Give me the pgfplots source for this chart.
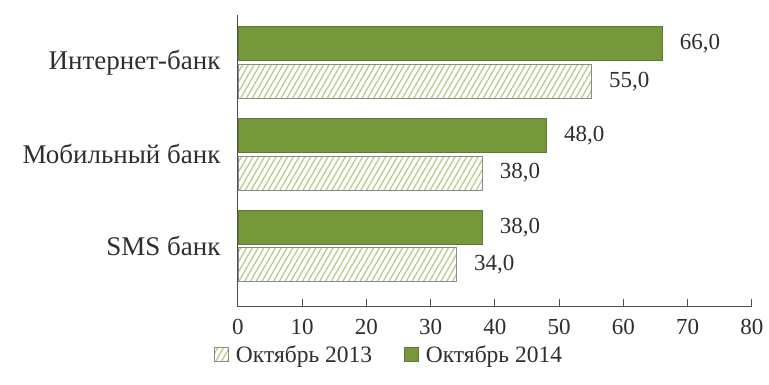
\documentclass[border=0pt]{standalone}
\usepackage{fontspec}
\setmainfont{Liberation Serif}
\usepackage{pgfplots}
\pgfplotsset{compat=1.18}
\usetikzlibrary{patterns.meta}

\definecolor{barGreen}{HTML}{76983A}
\definecolor{barEdge}{HTML}{5E7A34}
\definecolor{hatchGreen}{HTML}{B5CD8A}
\definecolor{hatchEdge}{HTML}{8A8A8A}
\definecolor{axisGrey}{HTML}{4D4D4D}
\definecolor{textGrey}{HTML}{2E2E2E}

\begin{document}
\begin{tikzpicture}[x=1pt,y=1pt]
\path[use as bounding box] (-238,-78) rectangle (531,307);
\begin{axis}[
  scale only axis, width=514pt, height=292pt,
  at={(0,0)}, anchor=south west,
  xmin=0, xmax=80, ymin=-0.663, ymax=2.516,
  xbar, bar width=34pt,
  axis x line=bottom, axis y line=left,
  axis line style={axisGrey, line width=1pt, -},
  xtick={0,10,...,80},
  tick align=inside, major tick length=8pt,
  xtick style={axisGrey, line width=1pt},
  ytick={0,1,2},
  yticklabels={SMS банк, Мобильный банк, Интернет-банк},
  ytick style={draw=none},
  every tick label/.append style={textGrey},
  /pgf/number format/assume math mode=true,
  xticklabel style={font=\fontsize{23}{27}\selectfont, yshift=-9pt},
  yticklabel style={font=\fontsize{27}{31}\selectfont, xshift=-14pt},
  nodes near coords={\pgfmathprintnumber[fixed,fixed zerofill,precision=1,use comma,assume math mode=true]{\pgfplotspointmeta}},
  nodes near coords align=horizontal,
  every node near coord/.append style={textGrey, font=\fontsize{23}{27}\selectfont, xshift=14pt},
  legend style={at={(axis description cs:0.294,-0.164)}, anchor=center,
    draw=none, fill=none, legend columns=2, font=\fontsize{23.5}{27}\selectfont,
    text=textGrey,
    /tikz/every even column/.append style={column sep=30pt}},
  legend cell align=left,
  legend image code/.code={\draw[#1] (0pt,-7pt) rectangle (14pt,7pt); \path (19pt,0pt);},
]
% October 2013: hatched bars, lower bar in each group
\addplot[draw=hatchEdge, line width=0.8pt,
  pattern={Lines[angle=60,distance=5pt,line width=1.3pt]}, pattern color=hatchGreen,
  bar shift=-18.75pt]
  coordinates {(34,0) (38,1) (55,2)};
\addlegendentry{Октябрь 2013}
% October 2014: solid green bars, upper bar in each group
\addplot[draw=barEdge, line width=0.8pt, fill=barGreen, bar shift=18.75pt]
  coordinates {(38,0) (48,1) (66,2)};
\addlegendentry{Октябрь 2014}
\end{axis}
\end{tikzpicture}
\end{document}
